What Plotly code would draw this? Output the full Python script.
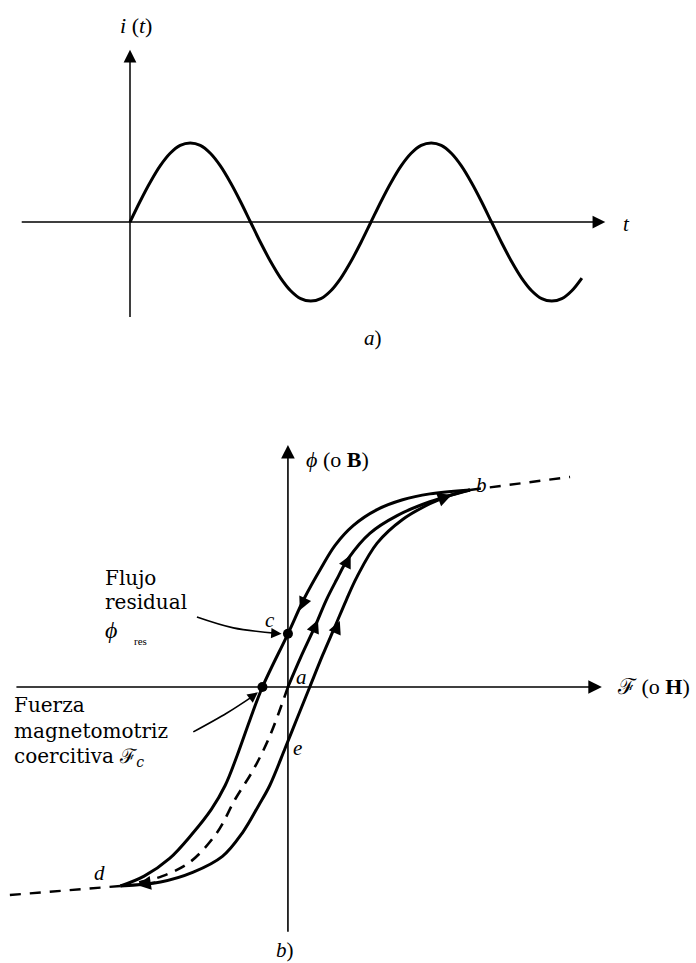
import plotly.graph_objects as go

W, H = 696, 963
INK = "black"
SERIF = "Liberation Serif, Times New Roman, DejaVu Serif, serif"
WIDE_SERIF = "DejaVu Serif, Liberation Serif, serif"

# ---------------- panel a): alternating current i(t) ----------------
wt_deg = [0, 15, 30, 45, 60, 75, 90, 105, 120, 135, 150, 165, 180,
          195, 210, 225, 240, 255, 270, 285, 300, 315, 330, 345, 360,
          375, 390, 405, 420, 435, 450, 465, 480, 495, 510, 525, 540,
          555, 570, 585, 600, 615, 630, 645, 660, 675]
i_val = [0, 0.26, 0.5, 0.71, 0.87, 0.97, 1.0, 0.97, 0.87, 0.71, 0.5, 0.26, 0,
         -0.26, -0.5, -0.71, -0.87, -0.97, -1.0, -0.97, -0.87, -0.71, -0.5, -0.26, 0,
         0.26, 0.5, 0.71, 0.87, 0.97, 1.0, 0.97, 0.87, 0.71, 0.5, 0.26, 0,
         -0.26, -0.5, -0.71, -0.87, -0.97, -1.0, -0.97, -0.87, -0.71]
t_axis = [-164, 710]      # extent of the time axis (degrees)
i_axis = [-1.22, 2.18]    # extent of the current axis

# ---------------- panel b): hysteresis loop ----------------
# descending branch  b -> c -> coercive point -> d
F_down = [1.00, 0.78, 0.63, 0.49, 0.36, 0.26, 0.18, 0.09, 0.00, -0.14, -0.21,
          -0.28, -0.345, -0.42, -0.53, -0.65, -0.79, -0.92]
phi_down = [1.00, 0.98, 0.95, 0.90, 0.82, 0.72, 0.60, 0.45, 0.27, 0.00, -0.17,
            -0.35, -0.50, -0.62, -0.75, -0.87, -0.96, -1.01]
# ascending branch  d -> e -> b
F_up = [-0.92, -0.70, -0.52, -0.36, -0.25, -0.16, -0.10, -0.015, 0.05, 0.12, 0.19,
        0.26, 0.32, 0.38, 0.49, 0.63, 0.78, 0.90, 1.00]
phi_up = [-1.01, -0.99, -0.94, -0.86, -0.74, -0.60, -0.50, -0.31, -0.16, 0.00, 0.16,
          0.31, 0.44, 0.56, 0.73, 0.85, 0.93, 0.975, 1.00]
# initial magnetization curve a -> b (solid)
F_init = [0.00, 0.07, 0.15, 0.21, 0.265, 0.33, 0.45, 0.60, 0.78, 1.00]
phi_init = [0.00, 0.15, 0.31, 0.44, 0.54, 0.65, 0.78, 0.87, 0.94, 1.00]
# initial magnetization curve a -> d (dashed)
F_init_neg = [0.00, -0.10, -0.19, -0.29, -0.39, -0.54, -0.69, -0.81, -0.92]
phi_init_neg = [0.00, -0.25, -0.42, -0.57, -0.74, -0.89, -0.96, -0.99, -1.01]
# saturation extensions beyond b and d (dashed)
F_sat_pos, phi_sat_pos = [1.00, 1.55], [1.00, 1.066]
F_sat_neg, phi_sat_neg = [-0.92, -1.53], [-1.01, -1.056]
# marked points: residual flux c and coercive force
F_marks = [0.00, -0.14]
phi_marks = [0.27, 0.00]
F_axis = [-1.50, 1.725]
phi_axis = [-1.25, 1.228]
# leader curves for the two notes
F_lead_res, phi_lead_res = [-0.50, -0.30, -0.06], [0.355, 0.30, 0.272]
F_lead_coe, phi_lead_coe = [-0.52, -0.335, -0.19], [-0.228, -0.132, -0.045]

fig = go.Figure()

def curve(x, y, xa, ya, dash="solid", width=3.0, shape="spline", smooth=1.0):
    fig.add_trace(go.Scatter(x=x, y=y, mode="lines", xaxis=xa, yaxis=ya,
                             line=dict(color=INK, width=width, dash=dash,
                                       shape=shape, smoothing=smooth),
                             hoverinfo="skip", showlegend=False))

# panel a
curve(wt_deg, i_val, "x", "y", width=3.0)

# panel b
curve(F_down, phi_down, "x2", "y2")
curve(F_up, phi_up, "x2", "y2")
curve(F_init, phi_init, "x2", "y2")
curve(F_init_neg, phi_init_neg, "x2", "y2", dash="11px,8px", width=2.6)
curve(F_sat_pos, phi_sat_pos, "x2", "y2", dash="11px,9px", width=2.4, shape="linear")
curve(F_sat_neg, phi_sat_neg, "x2", "y2", dash="11px,9px", width=2.4, shape="linear")
curve(F_lead_res, phi_lead_res, "x2", "y2", width=1.6)
curve(F_lead_coe, phi_lead_coe, "x2", "y2", width=1.6)
fig.add_trace(go.Scatter(x=F_marks, y=phi_marks, mode="markers", xaxis="x2", yaxis="y2",
                         marker=dict(color=INK, size=10), hoverinfo="skip",
                         showlegend=False))

annotations = []

def arrow(x, y, ax, ay, xr, yr, width=1.5, size=1.6, head=2):
    # arrow from the tail (ax, ay) to the head (x, y), both in data units
    annotations.append(dict(x=x, y=y, ax=ax, ay=ay, xref=xr, yref=yr,
                            axref=xr, ayref=yr, text="", showarrow=True,
                            arrowhead=head, arrowsize=size, arrowwidth=width,
                            arrowcolor=INK, standoff=0, startstandoff=0))

def label(x, y, text, xr, yr, size=20, anchor="center", family=SERIF):
    annotations.append(dict(x=x, y=y, xref=xr, yref=yr, text=text, showarrow=False,
                            xanchor=anchor, yanchor="middle",
                            font=dict(family=family, size=size, color=INK)))

# axes of panel a
arrow(0, i_axis[1], 0, i_axis[0], "x", "y", width=1.5, size=1.7)
arrow(t_axis[1], 0, t_axis[0], 0, "x", "y", width=1.5, size=1.7)
# axes of panel b
arrow(0, phi_axis[1], 0, phi_axis[0], "x2", "y2", width=1.6, size=1.7)
arrow(F_axis[1], 0, F_axis[0], 0, "x2", "y2", width=1.6, size=1.7)

# direction marks on the loop
arrow(0.345, 0.67, 0.315, 0.615, "x2", "y2", width=2, size=1.3)
arrow(0.165, 0.34, 0.135, 0.275, "x2", "y2", width=2, size=1.3)
arrow(0.285, 0.335, 0.255, 0.27, "x2", "y2", width=2, size=1.3)
arrow(0.065, 0.39, 0.095, 0.45, "x2", "y2", width=2, size=1.3)
arrow(0.90, 0.975, 0.80, 0.94, "x2", "y2", width=2, size=1.4)
arrow(-0.83, -1.005, -0.72, -0.99, "x2", "y2", width=2, size=1.4)
# heads of the leader curves
arrow(-0.035, 0.27, -0.07, 0.272, "x2", "y2", width=1.6, size=1.3)
arrow(-0.165, -0.027, -0.195, -0.048, "x2", "y2", width=1.6, size=1.3)

# labels of panel a
label(9, 2.49, "<i>i</i> (<i>t</i>)", "x", "y", size=22)
label(741, -0.02, "<i>t</i>", "x", "y", size=21)
label(363, -1.47, "<i>a</i>)", "x", "y", size=21)

# labels of panel b
label(0.275, 1.152, "<i>ϕ</i> (o <b>B</b>)", "x2", "y2", size=22)
label(1.797, 0.0, "ℱ (o <b>H</b>)", "x2", "y2", size=22, anchor="left")
label(1.066, 1.025, "<i>b</i>", "x2", "y2", size=21)
label(-0.099, 0.34, "<i>c</i>", "x2", "y2", size=21)
label(0.077, 0.05, "<i>a</i>", "x2", "y2", size=21)
label(0.055, -0.31, "<i>e</i>", "x2", "y2", size=21)
label(-1.033, -0.944, "<i>d</i>", "x2", "y2", size=21)
label(-0.016, -1.335, "<i>b</i>)", "x2", "y2", size=21)

# notes beside the loop
label(-1.016, 0.553, "Flujo", "x2", "y2", size=20, family=WIDE_SERIF, anchor="left")
label(-1.016, 0.431, "residual", "x2", "y2", size=20, family=WIDE_SERIF, anchor="left")
label(-1.016, 0.289, "<i>ϕ</i>", "x2", "y2", size=24, anchor="left")
label(-0.857, 0.234, "res", "x2", "y2", size=11, anchor="left")
label(-1.516, -0.091, "Fuerza", "x2", "y2", size=20, family=WIDE_SERIF, anchor="left")
label(-1.516, -0.223, "magnetomotriz", "x2", "y2", size=20, family=WIDE_SERIF, anchor="left")
label(-1.516, -0.355, "coercitiva ℱ<sub><i>c</i></sub>", "x2", "y2", size=20,
      family=WIDE_SERIF, anchor="left")

hidden = dict(visible=False, fixedrange=True)
fig.update_layout(
    width=W, height=H,
    margin=dict(l=0, r=0, t=0, b=0),
    paper_bgcolor="white", plot_bgcolor="white",
    showlegend=False,
    xaxis=dict(domain=[0, 1], range=[-194.2, 845.5], **hidden),
    yaxis=dict(domain=[0.6054, 1], range=[-2.0, 2.810], **hidden),
    xaxis2=dict(domain=[0, 1], range=[-1.582, 2.242], **hidden),
    yaxis2=dict(domain=[0, 0.6054], range=[-1.401, 1.558], **hidden),
    annotations=annotations,
)

fig.write_html("out.html")
